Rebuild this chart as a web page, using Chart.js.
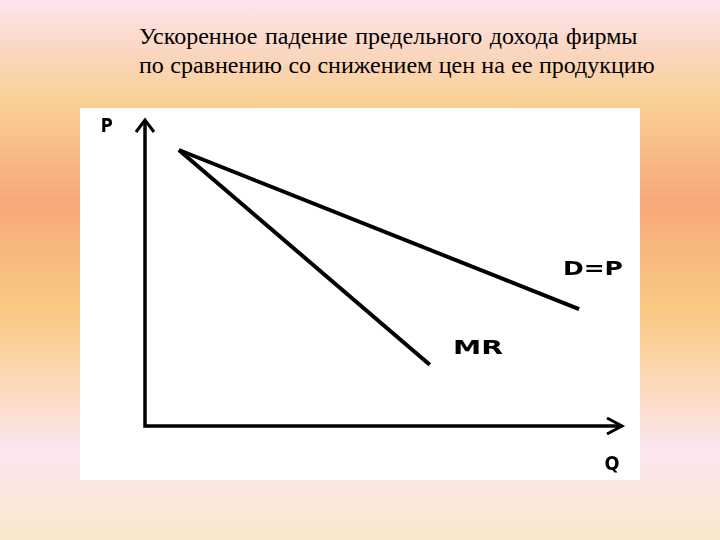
<!DOCTYPE html>
<html>
<head>
<meta charset="utf-8">
<script src="https://cdn.jsdelivr.net/npm/chart.js@4/dist/chart.umd.min.js"></script>
<style>
	html, body {
		margin: 0;
		padding: 0;
	}
	body {
		width: 720px;
		height: 540px;
		position: relative;
		overflow: hidden;
		background: linear-gradient(to bottom,
			rgb(253,228,238) 0px,
			rgb(251,214,190) 55px,
			rgb(249,210,152) 95px,
			rgb(248,168,122) 200px,
			rgb(248,200,128) 303px,
			rgb(251,215,175) 370px,
			rgb(252,230,238) 450px,
			rgb(250,232,205) 540px);
	}
	#title {
		position: absolute;
		left: 139px;
		top: 22px;
		font-family: "Liberation Serif", "Times New Roman", serif;
		font-size: 24px;
		line-height: 29px;
		color: #000;
		white-space: nowrap;
	}
	#title span {
		display: block;
	}
	#box {
		position: absolute;
		left: 80px;
		top: 108px;
		width: 560px;
		height: 372px;
		background: #fff;
	}
</style>
</head>
<body>
<div id="title"><span style="word-spacing:1.5px">Ускоренное падение предельного дохода фирмы</span><span style="word-spacing:0.4px">по сравнению со снижением цен на ее продукцию</span></div>
<div id="box"><canvas id="econChart" width="560" height="372"></canvas></div>
<script>
// quantity (Q) and price (P) of the two lines
const demandQ = [0.71, 9.1];
const demandP = [9.02, 3.82];
const mrQ = [0.71, 5.97];
const mrP = [9.02, 2.0];

// axis range
const qMax = 10;
const pMax = 10;

// text labels and their anchors in Q/P units
const labelText = ['P', 'Q', 'D=P', 'MR'];
const labelQ = [-0.8, 9.79, 9.39, 6.98];
const labelP = [9.77, -1.27, 5.1, 2.52];
const labelWidth = [12, 15, 60, 50];

function toPoints(qs, ps) {
	return qs.map((q, i) => ({ x: q, y: ps[i] }));
}

const econPlugin = {
	id: 'econAxes',
	afterDraw(chart) {
		const ctx = chart.ctx;
		const xs = chart.scales.x;
		const ys = chart.scales.y;
		const x0 = xs.getPixelForValue(0);
		const y0 = ys.getPixelForValue(0);
		const xEnd = xs.getPixelForValue(qMax);
		const yEnd = ys.getPixelForValue(pMax);

		ctx.save();
		ctx.strokeStyle = '#000';
		ctx.lineWidth = 3.5;
		ctx.lineCap = 'butt';
		ctx.lineJoin = 'miter';

		// axes
		ctx.beginPath();
		ctx.moveTo(x0, yEnd + 1);
		ctx.lineTo(x0, y0);
		ctx.lineTo(xEnd - 1, y0);
		ctx.stroke();

		// arrow heads
		ctx.lineWidth = 3;
		ctx.beginPath();
		ctx.moveTo(x0 - 9, yEnd + 12);
		ctx.lineTo(x0, yEnd);
		ctx.lineTo(x0 + 9, yEnd + 12);
		ctx.moveTo(xEnd - 15, y0 - 8);
		ctx.lineTo(xEnd, y0);
		ctx.lineTo(xEnd - 15, y0 + 8);
		ctx.stroke();

		// labels
		ctx.fillStyle = '#000';
		ctx.font = 'bold 20px "DejaVu Sans"';
		ctx.textAlign = 'center';
		ctx.textBaseline = 'middle';
		labelText.forEach((t, i) => {
			const px = xs.getPixelForValue(labelQ[i]);
			const py = ys.getPixelForValue(labelP[i]);
			const w = ctx.measureText(t).width;
			ctx.save();
			ctx.translate(px, py);
			ctx.scale(labelWidth[i] / w, 1);
			ctx.fillText(t, 0, 0);
			ctx.restore();
		});
		ctx.restore();
	}
};

new Chart(document.getElementById('econChart'), {
	type: 'scatter',
	data: {
		datasets: [{
			label: 'D=P',
			data: toPoints(demandQ, demandP),
			showLine: true,
			borderColor: '#000',
			borderWidth: 4,
			pointRadius: 0
		}, {
			label: 'MR',
			data: toPoints(mrQ, mrP),
			showLine: true,
			borderColor: '#000',
			borderWidth: 4,
			pointRadius: 0
		}]
	},
	options: {
		responsive: false,
		animation: false,
		layout: {
			padding: { left: 65, right: 18, top: 12, bottom: 54 }
		},
		plugins: {
			legend: { display: false },
			tooltip: { enabled: false }
		},
		scales: {
			x: { type: 'linear', min: 0, max: qMax, display: false },
			y: { type: 'linear', min: 0, max: pMax, display: false }
		}
	},
	plugins: [econPlugin]
});
</script>
</body>
</html>
